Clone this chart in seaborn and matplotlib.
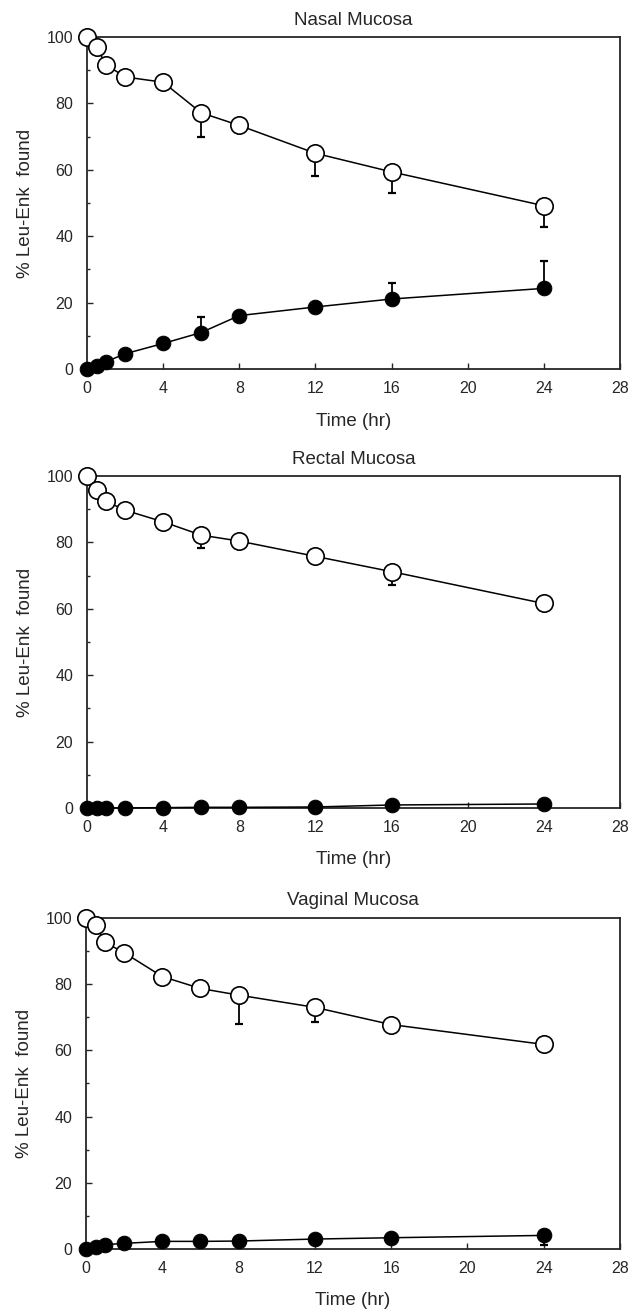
import numpy as np
import pandas as pd
import seaborn as sns
import matplotlib.pyplot as plt
from matplotlib.ticker import MultipleLocator

# Data
time_hr = [0, 0.5, 1, 2, 4, 6, 8, 12, 16, 24]
panel_titles = ["Nasal Mucosa", "Rectal Mucosa", "Vaginal Mucosa"]

nasal_open = [100, 97, 91.7, 88, 86.4, 77.2, 73.4, 65, 59.4, 49.2]
nasal_open_err_low = [0, 0, 0, 0, 0, 7.4, 0, 6.8, 6.3, 6.5]
nasal_filled = [0, 0.8, 2.2, 4.6, 7.7, 11, 16.1, 18.7, 21.1, 24.3]
nasal_filled_err_up = [0, 0, 0, 0, 0, 4.7, 0, 0, 4.9, 8.3]

rectal_open = [100, 95.9, 92.4, 89.7, 86.2, 82.2, 80.4, 75.8, 71.2, 61.6]
rectal_open_err_low = [0, 0, 0, 0, 0, 4, 0, 0, 4, 0]
rectal_filled = [0, 0, 0, 0, 0.1, 0.2, 0.2, 0.3, 0.9, 1.2]
rectal_filled_err_up = [0, 0, 0, 0, 0, 0, 0, 0, 0, 0]

vaginal_open = [100, 97.8, 92.6, 89.5, 82.3, 78.7, 76.7, 73, 67.8, 61.8]
vaginal_open_err_low = [0, 0, 0, 0, 0, 0, 8.6, 4.3, 0, 0]
vaginal_filled = [0, 0.7, 1.3, 1.7, 2.3, 2.3, 2.4, 3, 3.4, 4.1]
vaginal_filled_err_low = [0, 0, 0, 0, 0, 0, 0, 0, 0, 3]

x_ticks = [0, 4, 8, 12, 16, 20, 24, 28]
y_ticks = [0, 20, 40, 60, 80, 100]

sns.set_style("ticks")
plt.rcParams['font.family'] = ['Liberation Sans', 'DejaVu Sans']

fig = plt.figure(figsize=(6.41, 13.11), dpi=100)
positions = [
    [0.1357, 0.7185, 0.8315, 0.2532],
    [0.1357, 0.3837, 0.8315, 0.2532],
    [0.1342, 0.0473, 0.8330, 0.2525],
]

panels = [
    (nasal_open, nasal_open_err_low, nasal_filled, [0] * 10, nasal_filled_err_up),
    (rectal_open, rectal_open_err_low, rectal_filled, [0] * 10, rectal_filled_err_up),
    (vaginal_open, vaginal_open_err_low, vaginal_filled, vaginal_filled_err_low, [0] * 10),
]

for pos, title, (o_vals, o_low, f_vals, f_low, f_up) in zip(positions, panel_titles, panels):
    ax = fig.add_axes(pos)
    df = pd.DataFrame({"time": time_hr, "open": o_vals, "filled": f_vals})

    # error bars (one-sided, as in the original)
    ax.errorbar(time_hr, o_vals, yerr=[o_low, [0] * 10], fmt='none',
                ecolor='black', elinewidth=1.3, capsize=3, capthick=1.6, zorder=1)
    ax.errorbar(time_hr, f_vals, yerr=[f_low, f_up], fmt='none',
                ecolor='black', elinewidth=1.3, capsize=3, capthick=1.6, zorder=1)

    sns.lineplot(data=df, x="time", y="open", ax=ax, color='black', lw=1.1,
                 marker='o', markersize=12.5, markerfacecolor='white',
                 markeredgecolor='black', markeredgewidth=1.2, zorder=3, clip_on=False)
    sns.lineplot(data=df, x="time", y="filled", ax=ax, color='black', lw=1.1,
                 marker='o', markersize=10.5, markerfacecolor='black',
                 markeredgecolor='black', zorder=3, clip_on=False)

    ax.set_xlim(0, 28)
    ax.set_ylim(0, 100)
    ax.set_xticks(x_ticks)
    ax.set_yticks(y_ticks)
    ax.yaxis.set_minor_locator(MultipleLocator(10))
    ax.tick_params(which='both', direction='in', labelsize=11.5, length=4, width=1)
    ax.tick_params(axis='x', pad=8.5)
    ax.tick_params(axis='y', pad=10)
    ax.tick_params(which='minor', length=2.5)
    for s in ax.spines.values():
        s.set_linewidth(1.3)
        s.set_visible(True)
    ax.set_title(title, fontsize=13.5, pad=9)
    ax.set_xlabel("Time (hr)", fontsize=13.5, labelpad=12)
    ax.set_ylabel("% Leu-Enk  found", fontsize=13.5, labelpad=9)

fig.savefig("out.png", dpi=100)
